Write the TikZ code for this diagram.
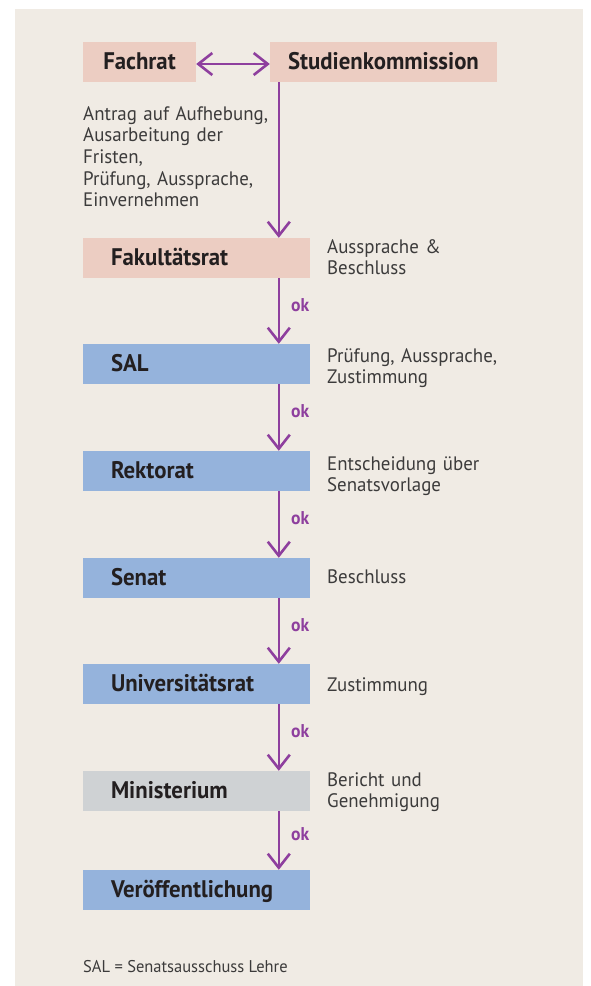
\documentclass[tikz,border=0pt]{standalone}
\usepackage{fontspec}
\setmainfont{PT Sans}
\newfontfamily\notefont[FakeStretch=0.97]{PT Sans}
\newfontfamily\boxfont[FakeStretch=0.95]{PT Sans}
\usetikzlibrary{arrows.meta}
\definecolor{panel}{HTML}{F0EBE4}
\definecolor{rose}{HTML}{ECCDC2}
\definecolor{sky}{HTML}{95B3DC}
\definecolor{stone}{HTML}{CFD2D4}
\definecolor{violet}{HTML}{8E3F9E}
\definecolor{ink}{HTML}{231F20}
\definecolor{notegray}{HTML}{3C3B3B}
\begin{document}
\begin{tikzpicture}[x=1pt,y=-1pt,
  box/.style={inner sep=0pt, minimum height=40pt, text height=15pt, text depth=0pt,
    font=\boxfont\fontsize{24}{26}\selectfont\bfseries, text=ink},
  headbox/.style={box, fill=rose, align=center},
  stepbox/.style={box, minimum width=227pt, text width=171pt, inner xsep=28pt, align=left},
  note/.style={anchor=base west, text width=230pt, align=left, inner sep=0pt,
    font=\notefont\fontsize{19.5}{21.7}\selectfont, text=notegray},
  ok/.style={anchor=base west, inner sep=0pt, xshift=11pt,
    font=\boxfont\fontsize{18.5}{18.5}\selectfont\bfseries, text=violet},
  tip/.tip={Straight Barb[length=14pt,width=22pt]},
  flow/.style={draw=violet, line width=2.6pt, -tip},
  both/.style={draw=violet, line width=2.6pt, tip-tip}]
  % page and panel
  \useasboundingbox (0,0) rectangle (590,986);
  \fill[white] (0,0) rectangle (590,986);
  \fill[panel] (15,9) rectangle (583,986);

  % top row
  \node[headbox, minimum width=113pt] (fach) at (139.5,62) {Fachrat};
  \node[headbox, minimum width=227pt] (stud) at (383.5,62) {Studienkommission};
  \draw[both] ([yshift=-2pt]fach.east) -- ([yshift=-2pt]stud.west);

  \node[note] (antrag) at (83,120)
    {Antrag auf Aufhebung,\\Ausarbeitung der\\Fristen,\\Prüfung, Aussprache,\\Einvernehmen};

  % chain of bodies
  \node[stepbox, fill=rose]  (fak) at (196.5,258) {Fakultätsrat};
  \node[stepbox, fill=sky]   (sal) at (196.5,364) {SAL};
  \node[stepbox, fill=sky]   (rek) at (196.5,471) {Rektorat};
  \node[stepbox, fill=sky]   (sen) at (196.5,578) {Senat};
  \node[stepbox, fill=sky]   (uni) at (196.5,684) {Universitätsrat};
  \node[stepbox, fill=stone] (min) at (196.5,791) {Ministerium};
  \node[stepbox, fill=sky]   (ver) at (196.5,890) {Veröffentlichung};

  \draw[flow] ([xshift=9pt]stud.south west) -- ([xshift=196pt]fak.north west);
  \draw[flow] ([xshift=196pt]fak.south west) -- ([xshift=196pt]sal.north west) node[ok, midway] {ok};
  \draw[flow] ([xshift=196pt]sal.south west) -- ([xshift=196pt]rek.north west) node[ok, midway] {ok};
  \draw[flow] ([xshift=196pt]rek.south west) -- ([xshift=196pt]sen.north west) node[ok, midway] {ok};
  \draw[flow] ([xshift=196pt]sen.south west) -- ([xshift=196pt]uni.north west) node[ok, midway] {ok};
  \draw[flow] ([xshift=196pt]uni.south west) -- ([xshift=196pt]min.north west) node[ok, midway] {ok};
  \draw[flow] ([xshift=196pt]min.south west) -- ([xshift=196pt]ver.north west) node[ok, midway] {ok};

  % remarks beside the bodies
  \node[note] (n1) at (327,253) {Aussprache \&\\Beschluss};
  \node[note] (n2) at (327,362) {Prüfung, Aussprache,\\Zustimmung};
  \node[note] (n3) at (327,470) {Entscheidung über\\Senatsvorlage};
  \node[note] (n4) at (327,583) {Beschluss};
  \node[note] (n5) at (327,691) {Zustimmung};
  \node[note] (n6) at (327,786) {Bericht und\\Genehmigung};

  % abbreviation
  \node[anchor=base west, inner sep=0pt, font=\notefont\fontsize{17}{17}\selectfont, text=notegray]
    (legend) at (83,972) {SAL = Senatsausschuss Lehre};
\end{tikzpicture}
\end{document}
